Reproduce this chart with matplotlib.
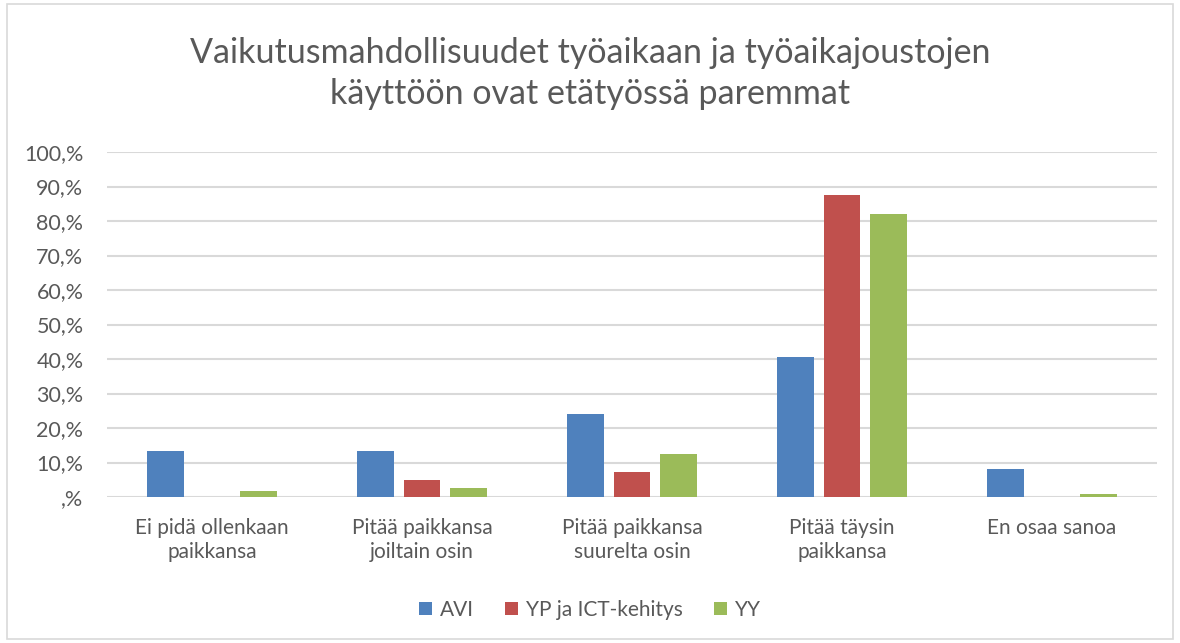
import numpy as np
import matplotlib
matplotlib.use("Agg")
import matplotlib.pyplot as plt
from matplotlib.patches import Rectangle

plt.rcParams['font.family'] = ['Lato', 'DejaVu Sans']

categories = ["Ei pidä ollenkaan\npaikkansa", "Pitää paikkansa\njoiltain osin",
              "Pitää paikkansa\nsuurelta osin", "Pitää täysin\npaikkansa", "En osaa sanoa"]
series_names = ["AVI", "YP ja ICT-kehitys", "YY"]
avi = [13.4, 13.4, 24.2, 40.5, 8.1]
yp_ict = [0.0, 4.8, 7.4, 87.6, 0.0]
yy = [1.8, 2.5, 12.4, 82.1, 0.9]
y_ticks = [0, 10, 20, 30, 40, 50, 60, 70, 80, 90, 100]
y_tick_labels = [",%", "10,%", "20,%", "30,%", "40,%", "50,%", "60,%", "70,%", "80,%", "90,%", "100,%"]
title = "Vaikutusmahdollisuudet työaikaan ja työaikajoustojen\nkäyttöön ovat etätyössä paremmat"

colors = ["#4F81BD", "#C0504D", "#9BBB59"]
text_color = "#595959"

fig = plt.figure(figsize=(11.8, 6.43), dpi=100)
ax = fig.add_axes([0.0907, 0.227, 0.8898, 0.5366])

x = np.arange(len(categories))
step = 0.221
width = 0.174
for i, (vals, name) in enumerate(zip([avi, yp_ict, yy], series_names)):
    ax.bar(x + (i - 1) * step, vals, width, color=colors[i], label=name, zorder=3)

ax.set_xlim(-0.5, len(categories) - 0.5)
ax.set_ylim(0, 100)
ax.set_yticks(y_ticks)
ax.set_yticklabels(y_tick_labels, fontsize=15.5, color=text_color)
ax.set_xticks(x)
ax.set_xticklabels(categories, fontsize=15, color=text_color, linespacing=1.25)
ax.tick_params(axis='both', length=0)
ax.tick_params(axis='y', pad=17)
ax.tick_params(axis='x', pad=15)
ax.grid(axis='y', color="#D9D9D9", linewidth=1.5, zorder=0)
for s in ax.spines.values():
    s.set_visible(False)

fig.text(0.5, 0.885, title, ha='center', va='center', fontsize=24.5,
         color=text_color, linespacing=1.35)

leg = fig.legend(loc='center', bbox_to_anchor=(0.5, 0.052), ncol=3, frameon=False,
                 fontsize=15, handlelength=0.6, handleheight=0.6, columnspacing=1.5,
                 handletextpad=0.4)
for t in leg.get_texts():
    t.set_color(text_color)

fig.patches.append(Rectangle((0.006, 0.006), 0.988, 0.988, transform=fig.transFigure,
                             fill=False, edgecolor="#D9D9D9", linewidth=1.2))

fig.savefig("out.png", dpi=100, facecolor="white")
